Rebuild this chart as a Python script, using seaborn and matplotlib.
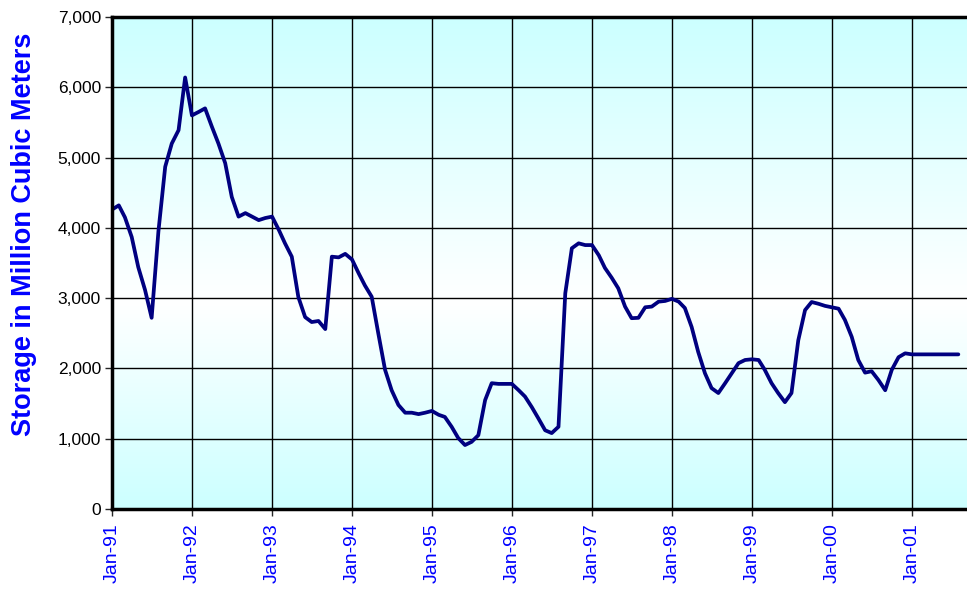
import numpy as np
import pandas as pd
import matplotlib
matplotlib.use("Agg")
import matplotlib.pyplot as plt
import matplotlib.dates as mdates
from matplotlib.ticker import FuncFormatter
from matplotlib.colors import LinearSegmentedColormap
import seaborn as sns

# ---- data (monthly storage, million cubic meters) ----
start_month = "1991-01-01"
v1991 = [4260, 4320, 4150, 3870, 3440, 3115, 2720, 3950, 4870, 5200, 5390, 6140]
v1992 = [5600, 5650, 5700, 5440, 5200, 4920, 4440, 4160, 4210, 4160, 4110, 4140]
v1993 = [4160, 3970, 3780, 3590, 3015, 2730, 2660, 2675, 2560, 3590, 3580, 3630]
v1994 = [3550, 3350, 3180, 3020, 2500, 1980, 1690, 1480, 1370, 1370, 1350, 1370]
v1995 = [1395, 1340, 1310, 1170, 1010, 910, 955, 1050, 1550, 1790, 1780, 1780]
v1996 = [1780, 1690, 1600, 1450, 1290, 1120, 1080, 1170, 3070, 3710, 3780, 3755]
v1997 = [3755, 3610, 3430, 3290, 3140, 2880, 2715, 2720, 2870, 2880, 2950, 2960]
v1998 = [2990, 2950, 2860, 2590, 2235, 1930, 1720, 1650, 1790, 1930, 2075, 2120]
v1999 = [2130, 2120, 1980, 1790, 1650, 1520, 1650, 2400, 2830, 2945, 2920, 2890]
v2000 = [2870, 2850, 2690, 2450, 2120, 1940, 1960, 1835, 1690, 1980, 2160, 2215]
v2001 = [2200, 2200, 2200, 2200, 2200, 2200, 2200, 2200]
y_ticks = [0, 1000, 2000, 3000, 4000, 5000, 6000, 7000]
y_label = "Storage in Million Cubic Meters"

values = v1991 + v1992 + v1993 + v1994 + v1995 + v1996 + v1997 + v1998 + v1999 + v2000 + v2001
dates = pd.date_range(start_month, periods=len(values), freq="MS")
df = pd.DataFrame({"date": dates, "storage": values})

# ---- figure ----
sns.set_style("white")
plt.rcParams["font.family"] = ["Liberation Sans", "DejaVu Sans"]

fig = plt.figure(figsize=(9.67, 5.90), dpi=100)
ax = fig.add_axes([112 / 967, 81 / 590, 1 - 112 / 967, (509 - 17) / 590])

# background gradient: cyan at top and bottom, white near 3,000
cmap = LinearSegmentedColormap.from_list(
    "bg", [(0.0, "#ccffff"), (0.58, "#ffffff"), (1.0, "#ccffff")])
grad = np.linspace(0, 1, 256).reshape(-1, 1)
ax.imshow(grad, cmap=cmap, aspect="auto", extent=[0, 1, 0, 1],
          transform=ax.transAxes, zorder=0, interpolation="bicubic")

sns.lineplot(data=df, x="date", y="storage", ax=ax, color="#000080",
             linewidth=2.7, zorder=3)

x0 = mdates.date2num(pd.Timestamp("1991-01-01"))
ax.set_xlim(x0, x0 + 10.69 * 365.25)
ax.set_ylim(0, 7000)

ax.xaxis.set_major_locator(mdates.YearLocator(1, month=1, day=1))
ax.xaxis.set_major_formatter(mdates.DateFormatter("%b-%y"))
ax.set_yticks(y_ticks)
ax.yaxis.set_major_formatter(FuncFormatter(lambda v, p: f"{int(v):,}"))

ax.grid(True, color="black", linewidth=1.0, zorder=1)
ax.set_axisbelow(False)
for line in ax.get_xgridlines() + ax.get_ygridlines():
    line.set_zorder(1)

for s in ["left", "top", "bottom"]:
    ax.spines[s].set_visible(True)
    ax.spines[s].set_color("black")
    ax.spines[s].set_linewidth(2.5)
    ax.spines[s].set_zorder(4)
ax.spines["right"].set_visible(False)

ax.tick_params(axis="y", direction="out", length=5, width=1, pad=3,
               labelsize=12.5, labelcolor="black", left=True)
ax.tick_params(axis="x", direction="out", length=5, width=1, pad=5,
               labelsize=14, labelcolor="#0000ff", bottom=True)
plt.setp(ax.get_xticklabels(), rotation=90)

ax.set_xlabel("")
ax.set_ylabel(y_label, color="#0000ff", fontsize=19.5, fontweight="bold")
ax.yaxis.set_label_coords(-0.088, 0.558)

fig.savefig("out.png", dpi=100)
